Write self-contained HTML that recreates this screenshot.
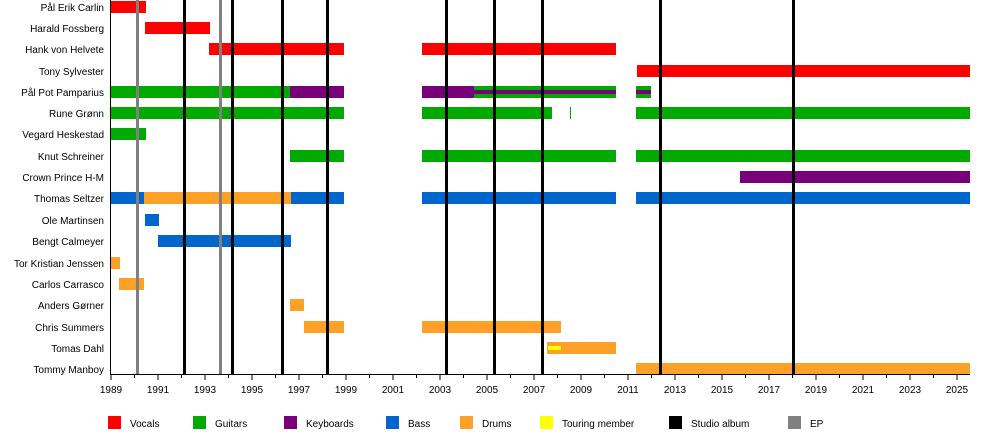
<!DOCTYPE html>
<html><head><meta charset="utf-8"><style>
html,body{margin:0;padding:0;background:#fff;}
svg{display:block;font-family:"Liberation Sans",sans-serif;}
</style></head><body>
<svg width="1000" height="434" viewBox="0 0 1000 434" xmlns="http://www.w3.org/2000/svg">
<g font-size="10" text-anchor="end" fill="#000">
<text x="104" y="11">Pål Erik Carlin</text>
<text x="104" y="32">Harald Fossberg</text>
<text x="104" y="53">Hank von Helvete</text>
<text x="104" y="75">Tony Sylvester</text>
<text x="104" y="96">Pål Pot Pamparius</text>
<text x="104" y="117">Rune Grønn</text>
<text x="104" y="138">Vegard Heskestad</text>
<text x="104" y="160">Knut Schreiner</text>
<text x="104" y="181">Crown Prince H-M</text>
<text x="104" y="202">Thomas Seltzer</text>
<text x="104" y="224">Ole Martinsen</text>
<text x="104" y="245">Bengt Calmeyer</text>
<text x="104" y="267">Tor Kristian Jenssen</text>
<text x="104" y="288">Carlos Carrasco</text>
<text x="104" y="309">Anders Gørner</text>
<text x="104" y="331">Chris Summers</text>
<text x="104" y="352">Tomas Dahl</text>
<text x="104" y="373">Tommy Manboy</text>
</g>
<!-- bars -->
<g>
<rect x="111" y="1" width="35" height="12" fill="#f00"/>
<rect x="145" y="22" width="65" height="12" fill="#f00"/>
<rect x="209" y="43" width="135" height="12" fill="#f00"/>
<rect x="422" y="43" width="194" height="12" fill="#f00"/>
<rect x="637" y="65" width="333" height="12" fill="#f00"/>

<rect x="111" y="86" width="179" height="12" fill="#00aa00"/>
<rect x="290" y="86" width="54" height="12" fill="#780078"/>
<rect x="422" y="86" width="52" height="12" fill="#780078"/>
<rect x="474" y="86" width="142" height="12" fill="#00aa00"/>
<rect x="474" y="90" width="142" height="4" fill="#780078"/>
<rect x="636" y="86" width="15" height="12" fill="#00aa00"/>
<rect x="636" y="90" width="15" height="4" fill="#780078"/>

<rect x="111" y="107" width="233" height="12" fill="#00aa00"/>
<rect x="422" y="107" width="130" height="12" fill="#00aa00"/>
<rect x="570" y="107" width="1" height="12" fill="#00aa00"/>
<rect x="636" y="107" width="334" height="12" fill="#00aa00"/>

<rect x="111" y="128" width="35" height="12" fill="#00aa00"/>

<rect x="290" y="150" width="54" height="12" fill="#00aa00"/>
<rect x="422" y="150" width="194" height="12" fill="#00aa00"/>
<rect x="636" y="150" width="334" height="12" fill="#00aa00"/>

<rect x="740" y="171" width="230" height="12" fill="#780078"/>

<rect x="111" y="192" width="33" height="12" fill="#0066cc"/>
<rect x="144" y="192" width="147" height="12" fill="#ffa128"/>
<rect x="291" y="192" width="53" height="12" fill="#0066cc"/>
<rect x="422" y="192" width="194" height="12" fill="#0066cc"/>
<rect x="636" y="192" width="334" height="12" fill="#0066cc"/>

<rect x="145" y="214" width="14" height="12" fill="#0066cc"/>
<rect x="158" y="235" width="133" height="12" fill="#0066cc"/>

<rect x="111" y="257" width="9" height="12" fill="#ffa128"/>
<rect x="119" y="278" width="25" height="12" fill="#ffa128"/>
<rect x="290" y="299" width="14" height="12" fill="#ffa128"/>
<rect x="304" y="321" width="40" height="12" fill="#ffa128"/>
<rect x="422" y="321" width="139" height="12" fill="#ffa128"/>
<rect x="547" y="342" width="69" height="12" fill="#ffa128"/>
<rect x="548" y="346" width="13" height="4" fill="#ffff00"/>
<rect x="636" y="363" width="334" height="11" fill="#ffa128"/>
</g>
<!-- event lines -->
<g>
<rect x="136" y="0" width="3" height="374" fill="#808080"/>
<rect x="219" y="0" width="3" height="374" fill="#808080"/>
<rect x="183" y="0" width="3" height="374" fill="#000"/>
<rect x="231" y="0" width="3" height="374" fill="#000"/>
<rect x="281" y="0" width="3" height="374" fill="#000"/>
<rect x="326" y="0" width="3" height="374" fill="#000"/>
<rect x="445" y="0" width="3" height="374" fill="#000"/>
<rect x="493" y="0" width="3" height="374" fill="#000"/>
<rect x="541" y="0" width="3" height="374" fill="#000"/>
<rect x="659" y="0" width="3" height="374" fill="#000"/>
<rect x="792" y="0" width="3" height="374" fill="#000"/>
</g>
<!-- axes -->
<rect x="110" y="0" width="1" height="375" fill="#000"/>
<rect x="110" y="374" width="860" height="1" fill="#000"/>
<g stroke="#000" stroke-width="1" id="ticks"></g>
<g font-size="10" text-anchor="middle" id="labels"></g>
<script>
var t=document.getElementById('ticks'),l=document.getElementById('labels'),ns='http://www.w3.org/2000/svg';
for(var y=1989;y<=2025;y++){var x=111+(y-1989)*23.5;var ln=document.createElementNS(ns,'line');ln.setAttribute('x1',x);ln.setAttribute('x2',x);ln.setAttribute('y1',375);ln.setAttribute('y2',(y%2)?380:378);t.appendChild(ln);
if(y%2){var tx=document.createElementNS(ns,'text');tx.setAttribute('x',x);tx.setAttribute('y',393);tx.textContent=y;l.appendChild(tx);}}
</script>
<!-- legend -->
<g font-size="10">
<rect x="108" y="416" width="13" height="13" fill="#f00"/><text x="130" y="427">Vocals</text>
<rect x="193" y="416" width="13" height="13" fill="#00aa00"/><text x="215" y="427">Guitars</text>
<rect x="284" y="416" width="13" height="13" fill="#780078"/><text x="306" y="427">Keyboards</text>
<rect x="386" y="416" width="13" height="13" fill="#0066cc"/><text x="408" y="427">Bass</text>
<rect x="460" y="416" width="13" height="13" fill="#ffa128"/><text x="482" y="427">Drums</text>
<rect x="540" y="416" width="13" height="13" fill="#ffff00"/><text x="562" y="427">Touring member</text>
<rect x="669" y="416" width="13" height="13" fill="#000"/><text x="691" y="427">Studio album</text>
<rect x="788" y="416" width="13" height="13" fill="#808080"/><text x="810" y="427">EP</text>
</g>
</svg>
</body></html>
